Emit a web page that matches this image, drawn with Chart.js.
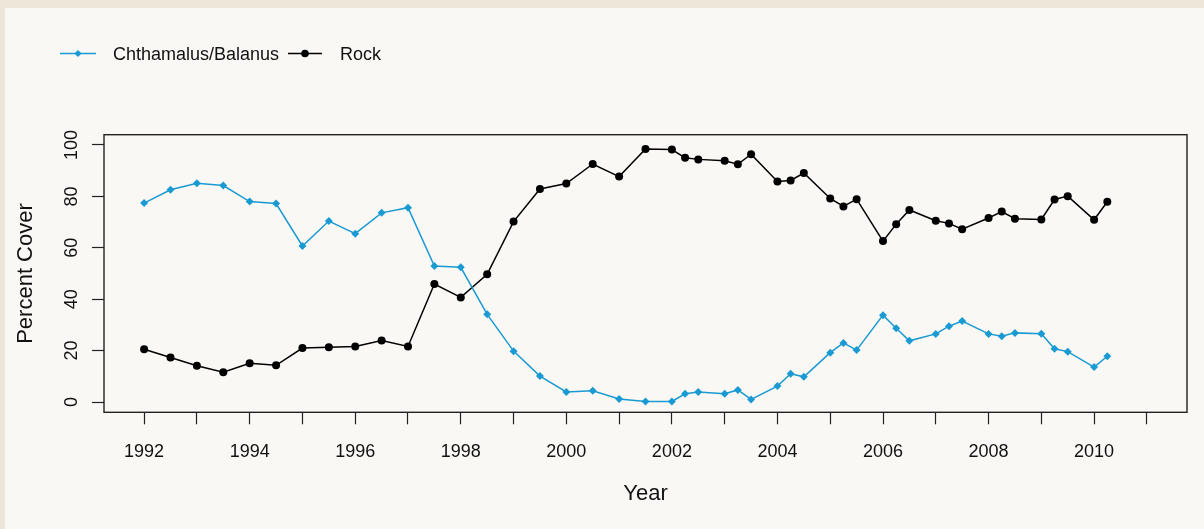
<!DOCTYPE html>
<html>
<head>
<meta charset="utf-8">
<script src="https://cdn.jsdelivr.net/npm/chart.js@4.4.1/dist/chart.umd.min.js"></script>
<style>
  html, body { margin: 0; padding: 0; background: #ece7d9; }
  #panel { position: absolute; left: 5px; top: 8px; width: 1199px; height: 521px; background: #f9f8f4; }
  #wrap { position: absolute; left: 0; top: 0; width: 1204px; height: 529px; }
</style>
</head>
<body>
<div id="panel"></div>
<div id="wrap"><canvas id="c" width="1204" height="529"></canvas></div>
<script>
// ---- data ----
const years = [1992, 1992.5, 1993, 1993.5, 1994, 1994.5, 1995, 1995.5, 1996, 1996.5,
  1997, 1997.5, 1998, 1998.5, 1999, 1999.5, 2000, 2000.5, 2001, 2001.5,
  2002, 2002.25, 2002.5, 2003, 2003.25, 2003.5, 2004, 2004.25, 2004.5,
  2005, 2005.25, 2005.5, 2006, 2006.25, 2006.5, 2007, 2007.25, 2007.5,
  2008, 2008.25, 2008.5, 2009, 2009.25, 2009.5, 2010, 2010.25];
const chthamalus = [77.4, 82.6, 85.1, 84.2, 78.0, 77.2, 60.7, 70.4, 65.5, 73.6,
  75.6, 52.9, 52.4, 34.1, 19.8, 10.1, 3.9, 4.4, 1.2, 0.2,
  0.2, 3.2, 3.9, 3.2, 4.7, 1.0, 6.2, 11.0, 9.8,
  19.2, 23.0, 20.2, 33.8, 28.7, 23.8, 26.5, 29.5, 31.5,
  26.5, 25.6, 26.9, 26.6, 20.7, 19.6, 13.6, 17.8];
const rock = [20.5, 17.3, 14.1, 11.6, 15.1, 14.3, 21.0, 21.3, 21.6, 23.9,
  21.6, 45.9, 40.7, 49.7, 70.2, 82.9, 85.0, 92.6, 87.7, 98.4,
  98.2, 95.0, 94.4, 93.9, 92.5, 96.4, 85.8, 86.2, 89.1,
  79.2, 76.1, 78.9, 62.6, 69.2, 74.7, 70.5, 69.5, 67.2,
  71.6, 74.1, 71.3, 71.0, 78.8, 80.1, 70.9, 77.9];
const seriesNames = ['Chthamalus/Balanus', 'Rock'];
const yTicks = [0, 20, 40, 60, 80, 100];
const xAxisTitle = 'Year';
const yAxisTitle = 'Percent Cover';

const BLUE = '#1a9ad2';
const FONT = "'Liberation Sans', Arial, sans-serif";

const toPts = vals => vals.map((v, i) => ({ x: years[i], y: v }));

const boxPlugin = {
  id: 'box',
  afterDatasetsDraw(chart) {
    const { ctx, chartArea: a } = chart;
    ctx.save();
    ctx.strokeStyle = '#222';
    ctx.lineWidth = 1.4;
    ctx.strokeRect(a.left, a.top, a.right - a.left, a.bottom - a.top);
    ctx.restore();
  }
};

const yLabelPlugin = {
  id: 'ylabels',
  afterDraw(chart) {
    const { ctx } = chart;
    const s = chart.scales.y;
    ctx.save();
    ctx.fillStyle = '#111';
    ctx.font = '18px ' + FONT;
    ctx.textAlign = 'center';
    ctx.textBaseline = 'middle';
    s.ticks.forEach(t => {
      const py = s.getPixelForValue(t.value);
      ctx.save();
      ctx.translate(72, py);
      ctx.rotate(-Math.PI / 2);
      ctx.fillText(String(t.value), 0, 0);
      ctx.restore();
    });
    ctx.restore();
  }
};

const legendPlugin = {
  id: 'customLegend',
  afterDraw(chart) {
    const { ctx } = chart;
    const y = 53.5;
    const items = [
      { x0: 60, x1: 96, tx: 113, ds: chart.data.datasets[0] },
      { x0: 288, x1: 322, tx: 340, ds: chart.data.datasets[1] }
    ];
    ctx.save();
    items.forEach(it => {
      const c = it.ds.borderColor;
      ctx.strokeStyle = c;
      ctx.fillStyle = c;
      ctx.lineWidth = 1.5;
      ctx.beginPath();
      ctx.moveTo(it.x0, y);
      ctx.lineTo(it.x1, y);
      ctx.stroke();
      const cx = (it.x0 + it.x1) / 2;
      ctx.beginPath();
      if (it.ds.pointStyle === 'rectRot') {
        const r = 3.6;
        ctx.moveTo(cx, y - r); ctx.lineTo(cx + r, y); ctx.lineTo(cx, y + r); ctx.lineTo(cx - r, y);
        ctx.closePath();
      } else {
        ctx.arc(cx, y, 3.8, 0, Math.PI * 2);
      }
      ctx.fill();
      ctx.fillStyle = '#111';
      ctx.font = '18px ' + FONT;
      ctx.textAlign = 'left';
      ctx.textBaseline = 'middle';
      ctx.fillText(it.ds.label, it.tx, y + 1.5);
    });
    ctx.restore();
  }
};

new Chart(document.getElementById('c'), {
  type: 'scatter',
  data: {
    datasets: [
      {
        label: seriesNames[0],
        data: toPts(chthamalus),
        showLine: true,
        borderColor: BLUE,
        backgroundColor: BLUE,
        borderWidth: 1.5,
        pointStyle: 'rectRot',
        pointRadius: 4,
        pointBorderWidth: 0,
        tension: 0
      },
      {
        label: seriesNames[1],
        data: toPts(rock),
        showLine: true,
        borderColor: '#000',
        backgroundColor: '#000',
        borderWidth: 1.5,
        pointStyle: 'circle',
        pointRadius: 4,
        pointBorderWidth: 0,
        tension: 0
      }
    ]
  },
  options: {
    responsive: false,
    animation: false,
    events: [],
    layout: { padding: { top: 134.7, right: 17, bottom: 0, left: 0 } },
    plugins: { legend: { display: false }, tooltip: { enabled: false } },
    scales: {
      x: {
        type: 'linear',
        min: 1991.24,
        max: 2011.76,
        afterFit(s) { s.height = 529 - 412.3; },
        afterBuildTicks(s) {
          const t = [];
          for (let v = 1992; v <= 2011; v++) t.push({ value: v });
          s.ticks = t;
        },
        ticks: {
          autoSkip: false,
          maxRotation: 0,
          minRotation: 0,
          padding: 17,
          color: '#111',
          font: { family: FONT, size: 18 },
          callback: v => (v % 2 === 0 ? String(v) : '')
        },
        grid: { drawOnChartArea: false, drawTicks: true, tickLength: 12, tickColor: '#222', tickWidth: 1.2 },
        border: { display: false },
        title: { display: true, text: xAxisTitle, color: '#111', font: { family: FONT, size: 22 }, padding: { top: 22, bottom: 22 } }
      },
      y: {
        type: 'linear',
        min: -4,
        max: 104,
        afterFit(s) { s.width = 104; },
        afterBuildTicks(s) { s.ticks = yTicks.map(v => ({ value: v })); },
        ticks: { color: 'rgba(0,0,0,0)', font: { family: FONT, size: 18 } },
        grid: { drawOnChartArea: false, drawTicks: true, tickLength: 12, tickColor: '#222', tickWidth: 1.2 },
        border: { display: false },
        title: { display: true, text: yAxisTitle, color: '#111', font: { family: FONT, size: 22 }, padding: { top: 13, bottom: 13 } }
      }
    }
  },
  plugins: [boxPlugin, yLabelPlugin, legendPlugin]
});
</script>
</body>
</html>
